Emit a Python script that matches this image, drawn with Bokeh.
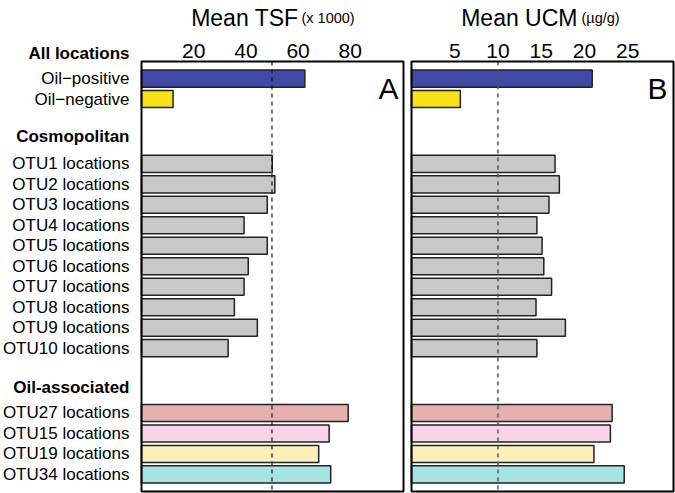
from bokeh.plotting import figure
from bokeh.models import ColumnDataSource, Range1d
from bokeh.core.properties import value
from bokeh.embed import file_html
from bokeh.resources import INLINE

# ---------------- data ----------------
groups = ["All locations", "Cosmopolitan", "Oil-associated"]
group_sizes = [2, 10, 4]
row_labels = ["Oil\u2212positive", "Oil\u2212negative",
              "OTU1 locations", "OTU2 locations", "OTU3 locations", "OTU4 locations",
              "OTU5 locations", "OTU6 locations", "OTU7 locations", "OTU8 locations",
              "OTU9 locations", "OTU10 locations",
              "OTU27 locations", "OTU15 locations", "OTU19 locations", "OTU34 locations"]
tsf = [62.6, 12.1, 50.1, 51.1, 48.2, 39.3, 48.2, 40.9, 39.3, 35.6, 44.4, 33.2,
       79.2, 71.9, 67.9, 72.5]
ucm = [20.9, 5.65, 16.6, 17.1, 15.9, 14.5, 15.1, 15.3, 16.2, 14.4, 17.8, 14.5,
       23.2, 23.0, 21.1, 24.6]
bar_colors = ["#4049A6", "#F6E11B"] + ["#C8C8C8"] * 10 + ["#E6B0B1", "#F9D3E6", "#FBF0B9", "#A5E3E5"]
tsf_ticks = [20, 40, 60, 80]
ucm_ticks = [5, 10, 15, 20, 25]
tsf_ref = 50
ucm_ref = 10
tsf_max = 100.4
ucm_max = 30.3

# ---------------- layout ----------------
W, H = 675, 493
STEP = 1.2      # bar pitch (bar height = 1)
GAP = 3.8       # pitch between groups
ys, head_ys = [], []
pos = 0.0
for gi, n in enumerate(group_sizes):
    if gi > 0:
        pos += GAP - STEP
    head_ys.append(pos - 1.5)
    for k in range(n):
        ys.append(pos)
        pos += STEP
head_ys[1] = ys[2] - 1.6

PX_Y = 17.06            # pixels per bar unit
Y0_PX = 78.1            # pixel row of first bar centre
Y_TOP, Y_BOT = -1.0, 24.2
A_LEFT, B_LEFT, PANEL_W = 141, 411, 262

a_scale = PANEL_W / tsf_max
b_scale = PANEL_W / ucm_max
a_start = -A_LEFT / a_scale
b_start = -B_LEFT / b_scale

p = figure(width=W, height=H, output_backend="svg", toolbar_location=None,
           x_range=Range1d(a_start, a_start + W / a_scale),
           y_range=Range1d((H - Y0_PX) / PX_Y, -Y0_PX / PX_Y),
           x_axis_location=None, y_axis_location=None,
           min_border=0, min_border_left=0, min_border_right=0,
           min_border_top=0, min_border_bottom=0)
p.extra_x_ranges = {"B": Range1d(b_start, b_start + W / b_scale)}
p.grid.visible = False
p.outline_line_color = None
p.background_fill_color = "white"
p.border_fill_color = "white"

FONT = value("Liberation Sans")
src = ColumnDataSource(dict(y=ys, tsf=tsf, ucm=ucm, color=bar_colors, label=row_labels))
hsrc = ColumnDataSource(dict(y=head_ys, label=groups))

# bars
p.hbar(y="y", left=0, right="tsf", height=1, source=src, fill_color="color",
       line_color="#222222", line_width=1.5)
p.hbar(y="y", left=0, right="ucm", height=1, source=src, fill_color="color",
       line_color="#222222", line_width=1.5, x_range_name="B")

# reference lines
p.segment(x0=[tsf_ref], y0=[Y_TOP], x1=[tsf_ref], y1=[Y_BOT], line_color="#111111",
          line_dash="4 4", line_width=1.2)
p.segment(x0=[ucm_ref], y0=[Y_TOP], x1=[ucm_ref], y1=[Y_BOT], line_color="#555555",
          line_dash="4 4", line_width=1.5, x_range_name="B")

# panel boxes
p.quad(left=[0], right=[tsf_max], top=[Y_TOP], bottom=[Y_BOT], fill_color=None,
       line_color="black", line_width=2)
p.quad(left=[0], right=[ucm_max], top=[Y_TOP], bottom=[Y_BOT], fill_color=None,
       line_color="black", line_width=2, x_range_name="B")

# tick labels (top)
TICK_Y = (50.7 - Y0_PX) / PX_Y
p.text(x=tsf_ticks, y=[TICK_Y] * len(tsf_ticks), text=[str(t) for t in tsf_ticks],
       text_align="center", text_baseline="alphabetic", text_font=FONT,
       text_font_size="21px", text_color="black")
p.text(x=ucm_ticks, y=[TICK_Y] * len(ucm_ticks), text=[str(t) for t in ucm_ticks],
       text_align="center", text_baseline="alphabetic", text_font=FONT,
       text_font_size="21px", text_color="black", x_range_name="B")

# titles
TITLE_Y = (17.5 - Y0_PX) / PX_Y
p.text(x=[(298 - A_LEFT) / a_scale], y=[TITLE_Y], text=["Mean TSF"], text_align="right",
       text_baseline="alphabetic", text_font=FONT, text_font_size="23px", text_color="black")
p.text(x=[(301 - A_LEFT) / a_scale], y=[TITLE_Y], text=["(x 1000)"], text_align="left",
       text_baseline="alphabetic", text_font=FONT, text_font_size="14.5px", text_color="black")
p.text(x=[(577 - B_LEFT) / b_scale], y=[TITLE_Y], text=["Mean UCM"], text_align="right",
       text_baseline="alphabetic", text_font=FONT, text_font_size="23px", text_color="black",
       x_range_name="B")
p.text(x=[(581 - B_LEFT) / b_scale], y=[TITLE_Y], text=["(\u00b5g/g)"], text_align="left",
       text_baseline="alphabetic", text_font=FONT, text_font_size="14.5px", text_color="black",
       x_range_name="B")

# panel letters
LET_Y = (88 - Y0_PX) / PX_Y
p.text(x=[(398 - A_LEFT) / a_scale], y=[LET_Y], text=["A"], text_align="right",
       text_baseline="alphabetic", text_font=FONT, text_font_size="30px", text_color="black")
p.text(x=[(667 - B_LEFT) / b_scale], y=[LET_Y], text=["B"], text_align="right",
       text_baseline="alphabetic", text_font=FONT, text_font_size="30px", text_color="black",
       x_range_name="B")

# row labels
p.text(x=0, y="y", text="label", source=src, x_offset=-12, text_align="right",
       text_baseline="middle", text_font=FONT, text_font_size="17px", text_color="black")
p.text(x=0, y="y", text="label", source=hsrc, x_offset=-12, text_align="right",
       text_baseline="middle", text_font=FONT, text_font_size="17px",
       text_font_style="bold", text_color="black")

open("out.html", "w").write(file_html(p, INLINE))
